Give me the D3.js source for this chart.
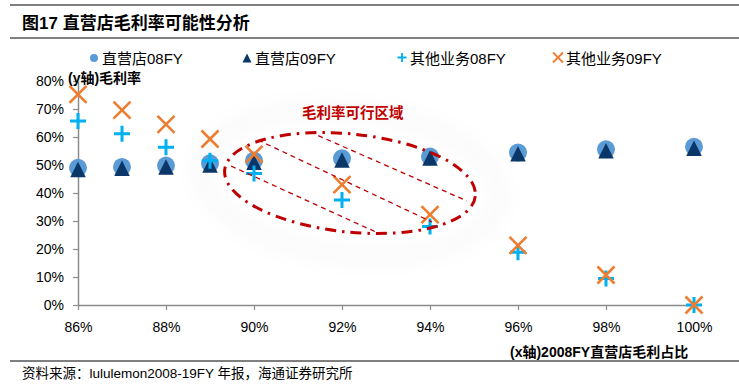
<!DOCTYPE html>
<html><head><meta charset="utf-8">
<script src="https://cdn.jsdelivr.net/npm/d3@7"></script>
<style>
body{margin:0;background:#fff;}
svg{display:block;font-family:"Liberation Sans","Noto Sans CJK SC",sans-serif;}
</style></head>
<body><svg id="c" width="739" height="386"></svg>
<script>
const xValues = [0.86, 0.87, 0.88, 0.89, 0.90, 0.92, 0.94, 0.96, 0.98, 1.00];
const store08 = [0.490, 0.493, 0.498, 0.506, 0.516, 0.524, 0.530, 0.545, 0.556, 0.565];
const store09 = [0.484, 0.488, 0.493, 0.500, 0.510, 0.518, 0.525, 0.540, 0.551, 0.560];
const other08 = [0.657, 0.612, 0.563, 0.515, 0.470, 0.375, 0.280, 0.188, 0.095, 0.000];
const other09 = [0.752, 0.696, 0.645, 0.593, 0.538, 0.430, 0.323, 0.213, 0.107, 0.000];
const xTicks = [0.86, 0.88, 0.90, 0.92, 0.94, 0.96, 0.98, 1.00];
const yTicks = [0, 0.1, 0.2, 0.3, 0.4, 0.5, 0.6, 0.7, 0.8];
const seriesNames = ["直营店08FY", "直营店09FY", "其他业务08FY", "其他业务09FY"];
const titleText = "图17 直营店毛利率可能性分析";
const sourceText = "资料来源：lululemon2008-19FY 年报，海通证券研究所";
const yTitle = "(y轴)毛利率";
const xTitle = "(x轴)2008FY直营店毛利占比";
const regionLabel = "毛利率可行区域";

const C = {circle:"#5B9BD5", tri:"#0B3668", plus:"#00B0F0", cross:"#ED7D31", red:"#C00000", axis:"#8C8C8C"};
const svg = d3.select("#c");
const x = d3.scaleLinear().domain([0.86, 1.00]).range([78, 694]);
const y = d3.scaleLinear().domain([0, 0.8]).range([305, 81]);

// header / footer rules
svg.append("line").attr("x1",10).attr("x2",739).attr("y1",5).attr("y2",5).attr("stroke","#000").attr("stroke-width",1.2);
svg.append("line").attr("x1",10).attr("x2",739).attr("y1",38).attr("y2",38).attr("stroke","#000").attr("stroke-width",1.2);
svg.append("line").attr("x1",10).attr("x2",739).attr("y1",361).attr("y2",361).attr("stroke","#000").attr("stroke-width",1.2);
svg.append("text").attr("x",22).attr("y",29).attr("font-size",17).attr("font-weight","bold").attr("fill","#000").text(titleText);
svg.append("text").attr("x",22).attr("y",378).attr("font-size",13.5).attr("fill","#000").text(sourceText);

// glow around region
const defs = svg.append("defs");
defs.append("filter").attr("id","blur").attr("x","-50%").attr("y","-50%").attr("width","200%").attr("height","200%")
  .append("feGaussianBlur").attr("stdDeviation",9);
svg.append("ellipse").attr("cx",350).attr("cy",183).attr("rx",150).attr("ry",72)
  .attr("transform","rotate(6,350,183)")
  .attr("fill","none").attr("stroke","#000").attr("stroke-opacity",0.018).attr("stroke-width",18).attr("filter","url(#blur)");

// axes
const yAxis = d3.axisLeft(y).tickValues(yTicks).tickFormat(d3.format(".0%")).tickSize(5).tickSizeOuter(0);
const gy = svg.append("g").attr("transform","translate(78,0)").call(yAxis);
gy.select(".domain").attr("stroke",C.axis).attr("stroke-width",1.5);
gy.selectAll(".tick line").attr("stroke",C.axis).attr("stroke-width",1.2);
gy.selectAll(".tick text").attr("font-size",14).attr("fill","#000").attr("x",-14)
  .attr("font-family","'Liberation Sans',Arial,sans-serif");

const xAxis = d3.axisBottom(x).tickValues(xTicks).tickFormat(d3.format(".0%")).tickSize(5).tickSizeOuter(0);
const gx = svg.append("g").attr("transform","translate(0,305)").call(xAxis);
gx.select(".domain").attr("stroke",C.axis).attr("stroke-width",1.5);
gx.selectAll(".tick line").attr("stroke",C.axis).attr("stroke-width",1.2);
gx.selectAll(".tick text").attr("font-size",14).attr("fill","#000").attr("y",17)
  .attr("font-family","'Liberation Sans',Arial,sans-serif");

svg.append("text").attr("x",68).attr("y",83).attr("font-size",14).attr("font-weight","bold").text(yTitle);
svg.append("text").attr("x",510).attr("y",357).attr("font-size",14).attr("font-weight","bold").text(xTitle);

// marker helpers
function triPath(cx, cy, w, h){ return `M${cx},${cy-h/2}L${cx+w/2},${cy+h/2}L${cx-w/2},${cy+h/2}Z`; }
function plus(g, cx, cy, s, sw){
  g.append("path").attr("d",`M${cx-s},${cy}H${cx+s}M${cx},${cy-s}V${cy+s}`).attr("stroke",C.plus).attr("stroke-width",sw).attr("fill","none");
}
function cross(g, cx, cy, s, sw){
  g.append("path").attr("d",`M${cx-s},${cy-s}L${cx+s},${cy+s}M${cx-s},${cy+s}L${cx+s},${cy-s}`).attr("stroke",C.cross).attr("stroke-width",sw).attr("fill","none");
}

const pts = svg.append("g");
pts.selectAll("circle.s08").data(xValues.map((v,i)=>[v,store08[i]])).join("circle")
  .attr("cx",d=>x(d[0])).attr("cy",d=>y(d[1])).attr("r",9).attr("fill",C.circle);
pts.selectAll("path.s09").data(xValues.map((v,i)=>[v,store09[i]])).join("path")
  .attr("d",d=>triPath(x(d[0]), y(d[1]), 15.5, 15.5)).attr("fill",C.tri);
xValues.forEach((v,i)=>plus(pts, x(v), y(other08[i]), 8, 3));
xValues.forEach((v,i)=>cross(pts, x(v), y(other09[i]), 8.5, 2.6));

// feasible region annotation
const ann = svg.append("g");
ann.append("ellipse").attr("cx",350).attr("cy",183).attr("rx",126).attr("ry",49)
  .attr("transform","rotate(6,350,183)")
  .attr("fill","none").attr("stroke",C.red).attr("stroke-width",3).attr("stroke-dasharray","11,6,2.5,6");
[[310,132,467,201],[258,140,432,222],[231,166,378,233]].forEach(l=>{
  ann.append("line").attr("x1",l[0]).attr("y1",l[1]).attr("x2",l[2]).attr("y2",l[3])
    .attr("stroke",C.red).attr("stroke-width",1.3).attr("stroke-dasharray","5,4");
});
ann.append("text").attr("x",302).attr("y",118).attr("font-size",14.5).attr("font-weight","bold")
  .attr("fill",C.red).text(regionLabel);

// legend
const lg = svg.append("g").attr("font-size",15);
const legX = [94, 247, 402, 558];
lg.append("circle").attr("cx",legX[0]).attr("cy",58).attr("r",4).attr("fill",C.circle);
lg.append("path").attr("d",triPath(legX[1],58,9,9)).attr("fill",C.tri);
plus(lg, legX[2], 57.5, 4.5, 1.8);
cross(lg, legX[3], 57.5, 5, 1.8);
seriesNames.forEach((n,i)=>{
  lg.append("text").attr("x",legX[i]+8).attr("y",64).attr("fill","#000").text(n);
});
</script></body></html>
